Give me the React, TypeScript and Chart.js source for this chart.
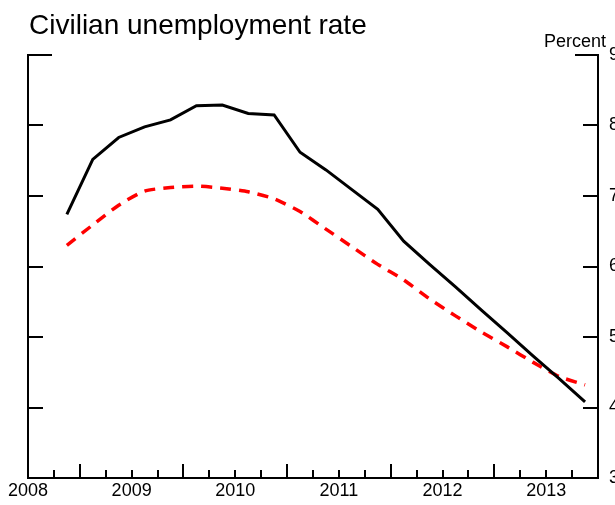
import React, { useEffect, useRef } from 'react';
import { Chart, registerables } from 'chart.js';

Chart.register(...registerables);

// ---- data ----
const quarters = [
  '2008 Q4',
  '2009 Q1', '2009 Q2', '2009 Q3', '2009 Q4',
  '2010 Q1', '2010 Q2', '2010 Q3', '2010 Q4',
  '2011 Q1', '2011 Q2', '2011 Q3', '2011 Q4',
  '2012 Q1', '2012 Q2', '2012 Q3', '2012 Q4',
  '2013 Q1', '2013 Q2', '2013 Q3', '2013 Q4',
];
const currentForecast = [6.74, 7.52, 7.83, 7.98, 8.08, 8.28, 8.29, 8.17, 8.15, 7.62, 7.37, 7.09, 6.81, 6.36, 6.03, 5.71, 5.38, 5.06, 4.73, 4.41, 4.08];
const previousForecast = [6.30, 6.59, 6.87, 7.07, 7.12, 7.14, 7.11, 7.06, 6.96, 6.78, 6.53, 6.28, 6.03, 5.81, 5.54, 5.30, 5.07, 4.86, 4.64, 4.44, 4.32];
const yearLabels = ['2008', '2009', '2010', '2011', '2012', '2013'];
const yTickValues = [3, 4, 5, 6, 7, 8, 9];
const titleText = 'Civilian unemployment rate';
const unitText = 'Percent';

const FONT = '"Liberation Sans", Arial, Helvetica, sans-serif';
const START_YEAR = 2008;
const START_Q = 3; // axis begins at start of 2008 Q3

function quarterToX(label: string): number {
  const [y, q] = label.split(' Q').map(Number);
  return (y - START_YEAR) * 4 + (q - START_Q) + 0.5;
}
function yearToX(label: string): number {
  return (Number(label) - START_YEAR) * 4;
}

const CW = 640;
const CH = 505;

const framePlugin = {
  id: 'framePlugin',
  afterDraw(chart: any) {
    const { ctx, chartArea } = chart;
    const xs = chart.scales.x;
    const ys = chart.scales.y;
    ctx.save();
    ctx.strokeStyle = '#000';
    ctx.lineWidth = 2;
    ctx.lineCap = 'butt';
    // bottom quarter ticks (inward)
    for (let q = xs.min + 1; q < xs.max; q++) {
      const x = Math.round(xs.getPixelForValue(q));
      const len = q % 4 === 2 ? 14 : 8;
      ctx.beginPath();
      ctx.moveTo(x, chartArea.bottom);
      ctx.lineTo(x, chartArea.bottom - len);
      ctx.stroke();
    }
    // left & right ticks (inward)
    yTickValues.forEach((v) => {
      if (v === ys.min) return;
      const y = Math.round(ys.getPixelForValue(v));
      const isTop = v === ys.max;
      const lenL = isTop ? 24 : 15;
      const lenR = isTop ? 23 : 15;
      ctx.beginPath();
      ctx.moveTo(chartArea.left - 1, y);
      ctx.lineTo(chartArea.left + lenL, y);
      ctx.moveTo(chartArea.right + 1, y);
      ctx.lineTo(chartArea.right - lenR, y);
      ctx.stroke();
    });
    // texts
    ctx.fillStyle = '#000';
    ctx.textBaseline = 'alphabetic';
    ctx.textAlign = 'left';
    ctx.font = `28px ${FONT}`;
    ctx.fillText(titleText, 29, 34);
    ctx.font = `18px ${FONT}`;
    ctx.fillText(unitText, 544, 47);
    ctx.restore();
  },
};

export default function App() {
  const ref = useRef<HTMLCanvasElement | null>(null);

  useEffect(() => {
    if (!ref.current) return;
    document.body.style.overflow = 'hidden';
    const chart = new Chart(ref.current, {
      type: 'line',
      data: {
        datasets: [
          {
            label: 'Current',
            data: quarters.map((q, i) => ({ x: quarterToX(q), y: currentForecast[i] })),
            borderColor: '#000000',
            borderWidth: 3,
            pointRadius: 0,
            tension: 0,
            fill: false,
            yAxisID: 'y',
          },
          {
            label: 'Previous',
            data: quarters.map((q, i) => ({ x: quarterToX(q), y: previousForecast[i] })),
            borderColor: '#ff0000',
            borderWidth: 3.5,
            borderDash: [11, 8],
            pointRadius: 0,
            tension: 0.2,
            fill: false,
            yAxisID: 'y',
          },
        ],
      },
      options: {
        responsive: false,
        animation: false,
        devicePixelRatio: 1,
        layout: { padding: { top: 55, left: 0, right: 0, bottom: 0 } },
        plugins: {
          legend: { display: false },
          title: { display: false },
          tooltip: { enabled: false },
        },
        scales: {
          x: {
            type: 'linear',
            position: 'bottom',
            min: 0,
            max: 22,
            grid: { display: false, drawTicks: false },
            border: { display: true, color: '#000', width: 2 },
            afterBuildTicks: (scale: any) => {
              scale.ticks = yearLabels.map((l) => ({ value: yearToX(l) }));
            },
            afterFit: (scale: any) => {
              scale.height = 27;
            },
            ticks: {
              autoSkip: false,
              maxRotation: 0,
              padding: 2,
              color: '#000',
              font: { size: 18, family: FONT },
              callback: (v: any) => yearLabels[Math.round(Number(v) / 4)] ?? '',
            },
          },
          yl: {
            type: 'linear',
            position: 'left',
            min: 3,
            max: 9,
            grid: { display: false, drawTicks: false },
            border: { display: true, color: '#000', width: 2 },
            ticks: { display: false, stepSize: 1 },
            afterFit: (scale: any) => {
              scale.width = 28;
            },
          },
          y: {
            type: 'linear',
            position: 'right',
            min: 3,
            max: 9,
            grid: { display: false, drawTicks: false },
            border: { display: true, color: '#000', width: 2 },
            afterBuildTicks: (scale: any) => {
              scale.ticks = yTickValues.map((v) => ({ value: v }));
            },
            afterFit: (scale: any) => {
              scale.width = CW - 598;
            },
            ticks: {
              padding: 11,
              color: '#000',
              font: { size: 18, family: FONT },
            },
          },
        },
      } as any,
      plugins: [framePlugin],
    });
    return () => chart.destroy();
  }, []);

  return (
    <div style={{ position: 'fixed', left: 0, top: 0, width: CW, height: CH, overflow: 'hidden', background: '#fff' }}>
      <canvas ref={ref} width={CW} height={CH} style={{ display: 'block', width: CW, height: CH }} />
    </div>
  );
}
